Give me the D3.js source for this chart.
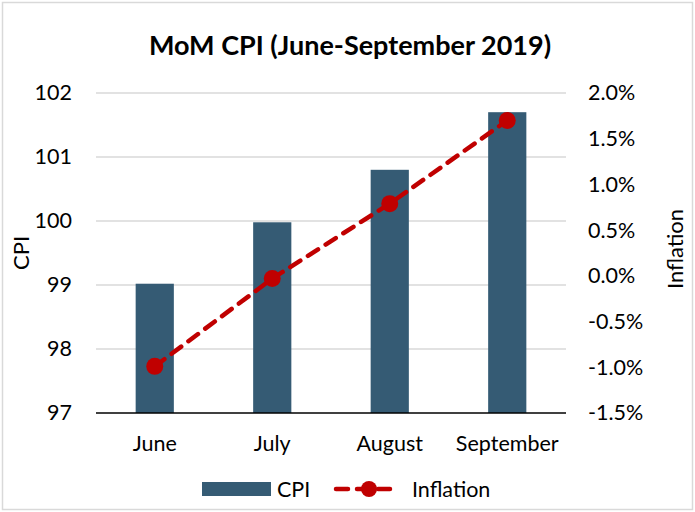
<!DOCTYPE html>
<html><head><meta charset="utf-8">
<script src="https://cdn.jsdelivr.net/npm/d3@7"></script>
<style>body{margin:0;background:#fff}svg{display:block}text{font-family:Lato,"Open Sans",sans-serif;fill:#000}</style>
</head><body>
<svg id="c" width="695" height="512"></svg>
<script>
const months = ["June","July","August","September"];
const cpi = [99.02, 99.98, 100.8, 101.7];
const inflation = [-0.0099, -0.0003, 0.0079, 0.017];
const leftTicks = [97,98,99,100,101,102];
const rightTicks = [-0.015,-0.01,-0.005,0,0.005,0.01,0.015,0.02];

const svg = d3.select("#c");
const W=695,H=512;
const m={l:96,r:566,t:93,b:413};
const FONT="Lato", FS=21.5;
svg.append("rect").attr("x",2.5).attr("y",2.5).attr("width",W-5).attr("height",H-5)
  .attr("fill","#fff").attr("stroke","#d9d9d9").attr("stroke-width",1.5);

const x=d3.scaleBand().domain(months).range([m.l,m.r]).paddingInner(0.675).paddingOuter(0.3375);
const yL=d3.scaleLinear().domain([97,102]).range([m.b,m.t]);
const yR=d3.scaleLinear().domain([-0.015,0.02]).range([m.b,m.t]);

// gridlines
svg.append("g").selectAll("line").data(leftTicks.slice(1)).join("line")
  .attr("x1",m.l).attr("x2",m.r).attr("y1",d=>yL(d)).attr("y2",d=>yL(d))
  .attr("stroke","#d9d9d9").attr("stroke-width",1.3);

// left axis
const la=svg.append("g").attr("transform",`translate(${m.l},0)`)
  .call(d3.axisLeft(yL).tickValues(leftTicks).tickSize(0).tickPadding(24).tickFormat(d3.format("d")));
la.select(".domain").remove();
la.selectAll("text").attr("font-size",FS).attr("font-family",FONT);
// right axis
const pf=d3.format(".1%");
const ra=svg.append("g").attr("transform",`translate(${m.r},0)`)
  .call(d3.axisRight(yR).tickValues(rightTicks).tickSize(0).tickPadding(22).tickFormat(d=>pf(d).replace("\u2212","-")));
ra.select(".domain").remove();
ra.selectAll("text").attr("font-size",FS).attr("font-family",FONT);

// bars
svg.append("g").selectAll("rect").data(months).join("rect")
  .attr("x",d=>x(d)).attr("width",x.bandwidth())
  .attr("y",(d,i)=>yL(cpi[i])).attr("height",(d,i)=>m.b-yL(cpi[i]))
  .attr("fill","#355B74");

// baseline
svg.append("line").attr("x1",m.l).attr("x2",m.r).attr("y1",m.b).attr("y2",m.b)
  .attr("stroke","#000").attr("stroke-width",1.5);

// x axis labels
const xa=svg.append("g").attr("transform",`translate(0,${m.b})`)
  .call(d3.axisBottom(x).tickSize(0).tickPadding(23));
xa.select(".domain").remove();
xa.selectAll("text").attr("font-size",FS).attr("font-family",FONT);

// line
const line=d3.line().x((d,i)=>x(months[i])+x.bandwidth()/2).y(d=>yR(d));
svg.append("path").datum(inflation).attr("d",line).attr("fill","none")
  .attr("stroke","#C00000").attr("stroke-width",4.5).attr("stroke-dasharray","12,9").attr("stroke-linecap","round");
svg.append("g").selectAll("circle").data(inflation).join("circle")
  .attr("cx",(d,i)=>x(months[i])+x.bandwidth()/2).attr("cy",d=>yR(d)).attr("r",8.5).attr("fill","#C00000");

// title
svg.append("text").attr("x",350).attr("y",55).attr("text-anchor","middle")
  .attr("font-size",27).attr("font-weight","bold").text("MoM CPI (June-September 2019)");
// axis titles
svg.append("text").attr("transform","translate(29,253) rotate(-90)").attr("text-anchor","middle")
  .attr("font-size",22).text("CPI");
svg.append("text").attr("transform","translate(683,249) rotate(-90)").attr("text-anchor","middle")
  .attr("font-size",22).text("Inflation");

// legend
const lg=svg.append("g");
lg.append("rect").attr("x",202).attr("y",482).attr("width",69).attr("height",14).attr("fill","#355B74");
lg.append("text").attr("x",277).attr("y",497).attr("font-size",FS).text("CPI");
lg.append("line").attr("x1",336).attr("x2",398).attr("y1",489).attr("y2",489)
  .attr("stroke","#C00000").attr("stroke-width",4.5).attr("stroke-dasharray","12,9").attr("stroke-linecap","round");
lg.append("circle").attr("cx",369).attr("cy",489).attr("r",8).attr("fill","#C00000");
lg.append("text").attr("x",412).attr("y",497).attr("font-size",FS).text("Inflation");
</script>
</body></html>
